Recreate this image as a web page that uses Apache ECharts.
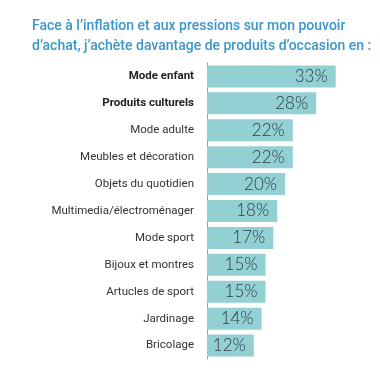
<!DOCTYPE html>
<html>
<head>
<meta charset="utf-8">
<script src="https://cdn.jsdelivr.net/npm/echarts@6/dist/echarts.min.js"></script>
<style>html,body{margin:0;padding:0;background:#fff}#c{width:380px;height:371px}</style>
</head>
<body>
<div id="c"></div>
<script>
const categories = ["Mode enfant","Produits culturels","Mode adulte","Meubles et décoration","Objets du quotidien","Multimedia/électroménager","Mode sport","Bijoux et montres","Artucles de sport","Jardinage","Bricolage"];
const values = [33,28,22,22,20,18,17,15,15,14,12];
const boldCats = ["Mode enfant","Produits culturels"];
const titleLines = ["Face à l’inflation et aux pressions sur mon pouvoir","d’achat, j’achète davantage de produits d’occasion en :"];

const chart = echarts.init(document.getElementById('c'));
chart.setOption({
  animation: false,
  title: {
    text: titleLines.join('\n'),
    left: 27, top: 11,
    textStyle: { color: '#3b97c9', fontSize: 14, fontWeight: 500, fontFamily: 'Roboto', lineHeight: 20 }
  },
  grid: { left: 207, right: 17, top: 63, bottom: 12 },
  xAxis: { type: 'value', min: 0, max: 40, show: false },
  yAxis: {
    type: 'category', data: categories, inverse: true,
    axisLine: { show: true, lineStyle: { color: '#9a9a9a', width: 1 } },
    axisTick: { show: false },
    axisLabel: {
      margin: 13, fontSize: 11.5, fontFamily: 'Roboto', color: '#333',
      formatter: v => boldCats.includes(v) ? '{b|' + v + '}' : v,
      rich: { b: { fontWeight: 'bold', fontSize: 11.5, fontFamily: 'Roboto', color: '#222' } }
    }
  },
  series: [{
    type: 'bar', data: values, barWidth: 22,
    itemStyle: { color: '#93d0d4' },
    label: {
      show: true, position: 'insideRight', distance: 8,
      formatter: '{c}%', fontSize: 17, fontFamily: 'Lato', fontWeight: 300, color: '#2d3a40'
    }
  }]
});
</script>
</body>
</html>
